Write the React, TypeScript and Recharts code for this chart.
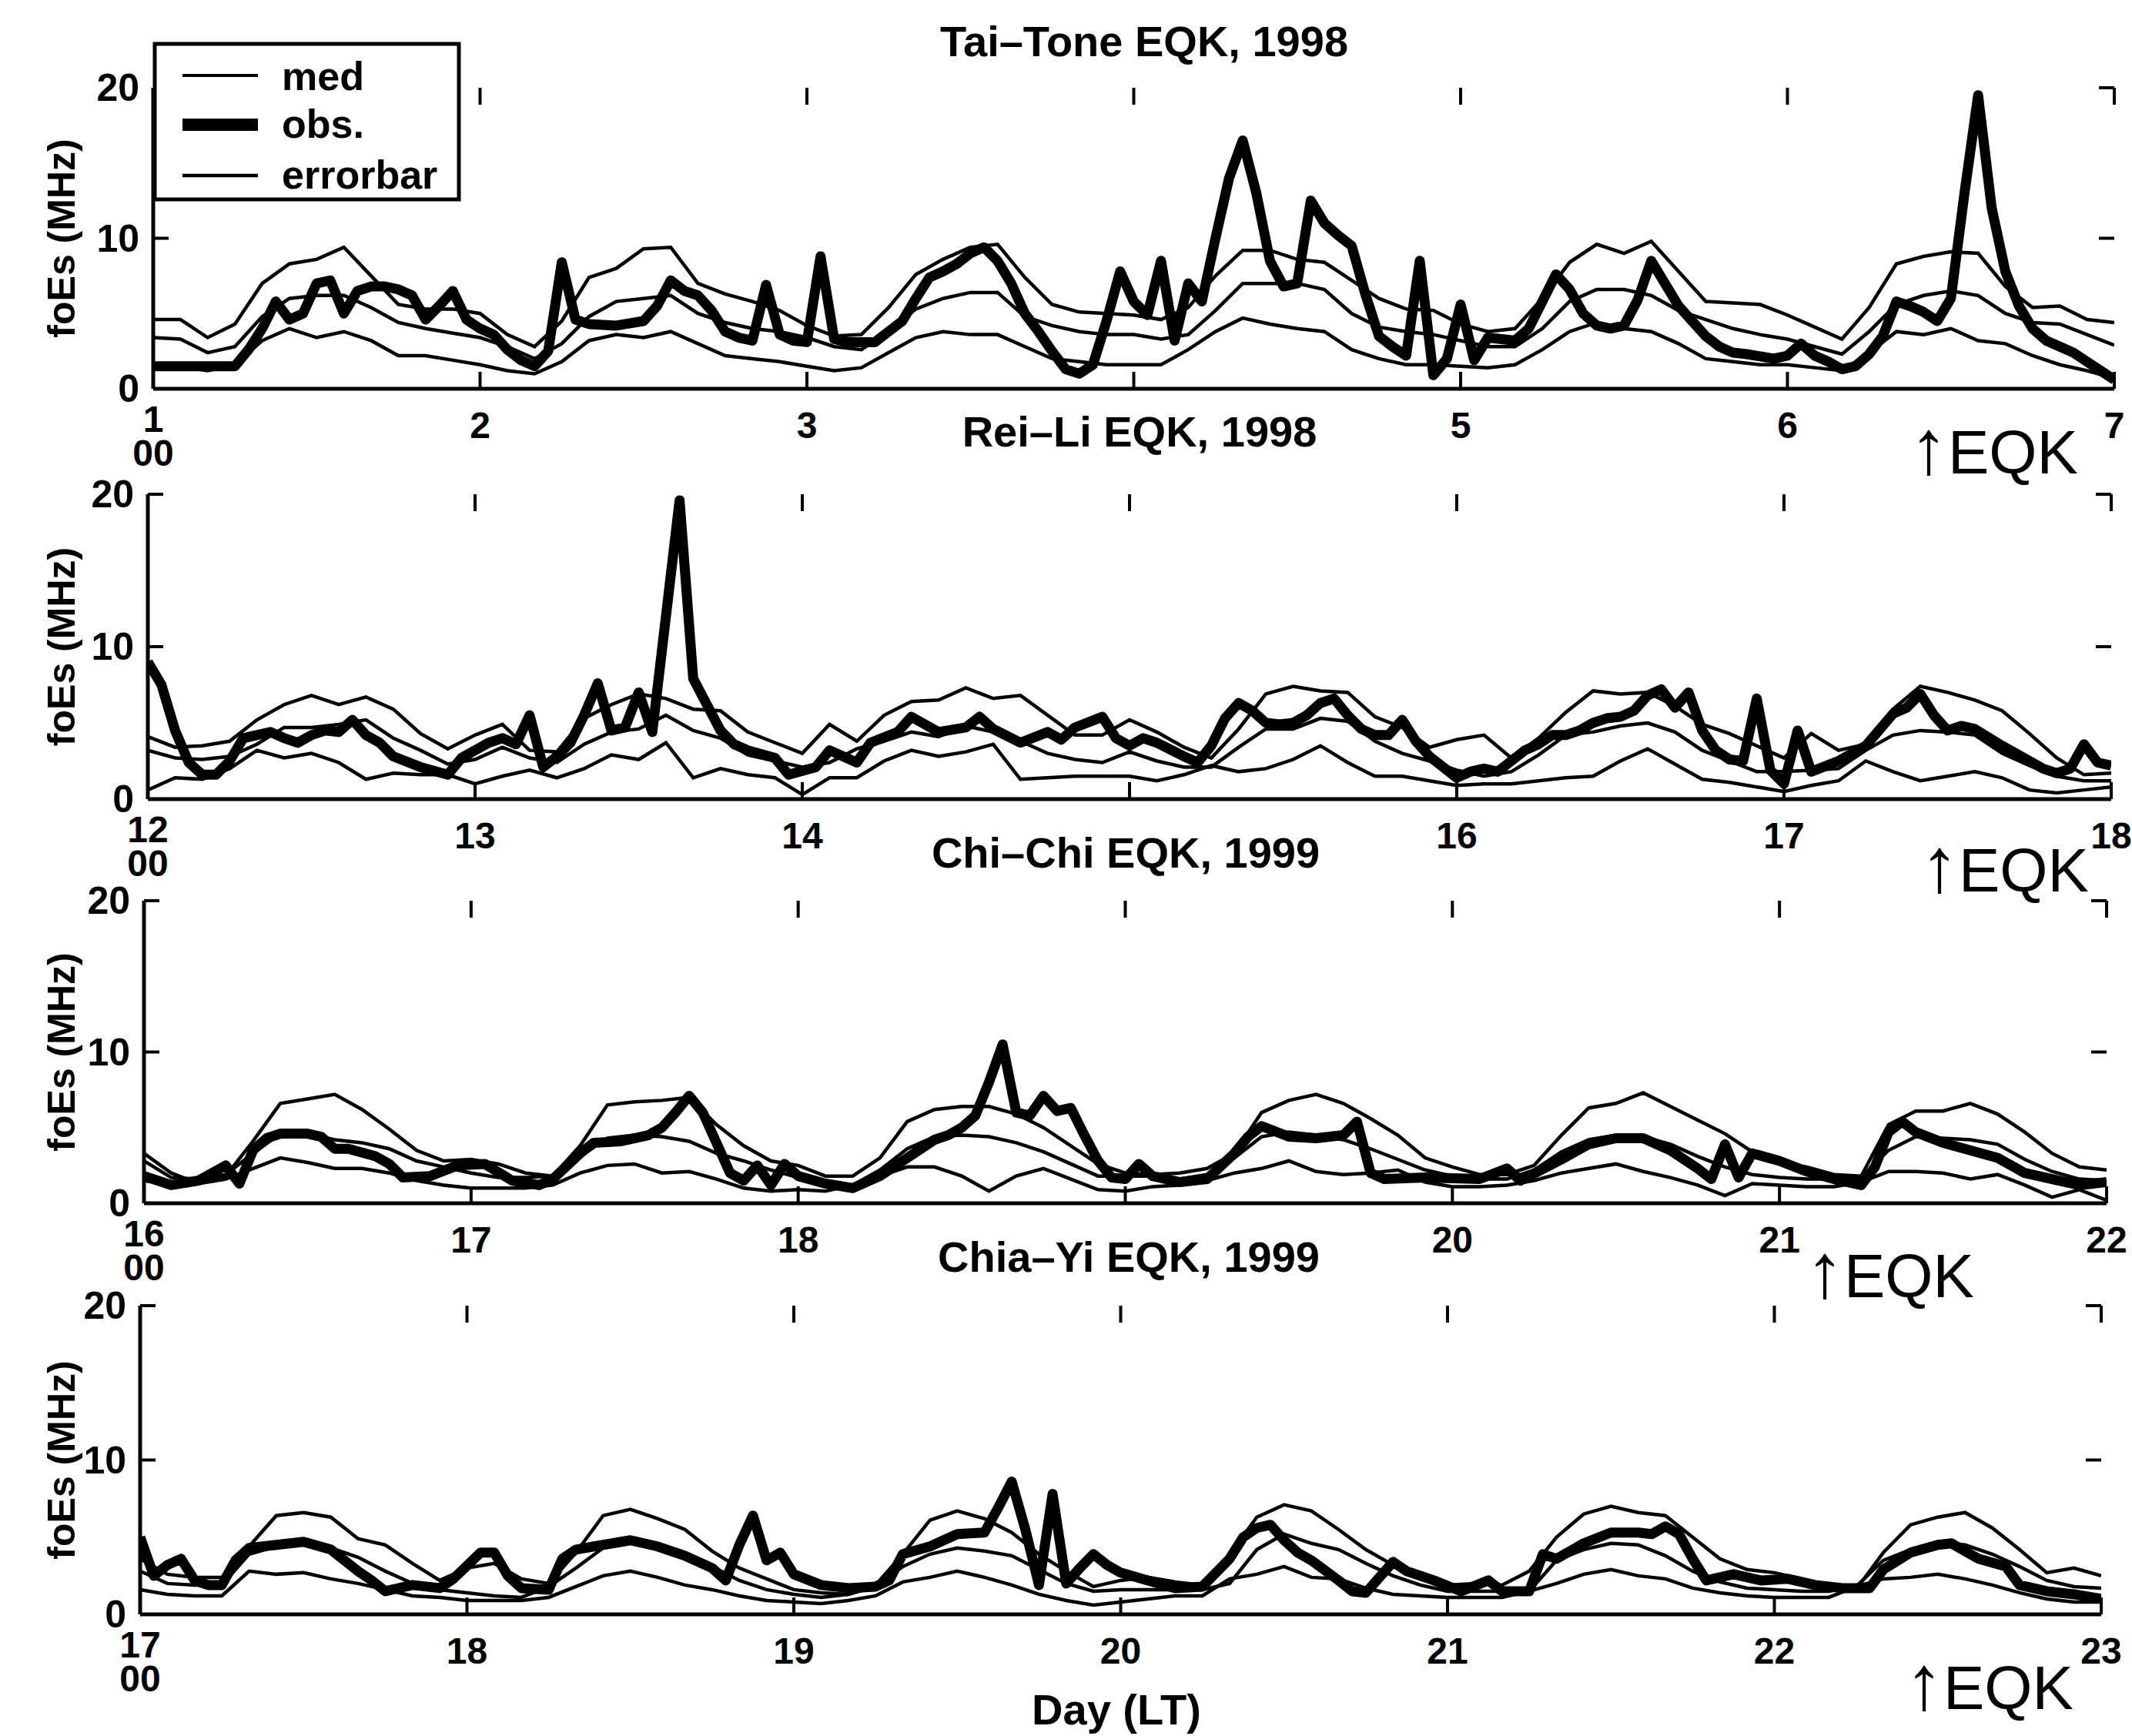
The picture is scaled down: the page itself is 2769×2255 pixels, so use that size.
import { LineChart, Line, XAxis, YAxis } from "recharts";

const W = 2769;
const H = 2255;
const FONT = "'Liberation Sans', Arial, Helvetica, sans-serif";

// ---- tick labels (days, local time) ----
const taiToneDays = [1, 2, 3, 4, 5, 6, 7];
const reiLiDays = [12, 13, 14, 15, 16, 17, 18];
const chiChiDays = [16, 17, 18, 19, 20, 21, 22];
const chiaYiDays = [17, 18, 19, 20, 21, 22, 23];
const yTicks = [0, 10, 20];

// ---- Tai-Tone EQK, 1998 : med / errorbar every 2 h, obs as [hour, MHz] ----
const taiToneUpper = [
  4.6, 4.6, 3.4, 4.3, 7.0, 8.3, 8.6, 9.4, 7.5, 5.6, 5.3, 5.3,
  5.0, 3.6, 2.8, 4.5, 7.4, 8.0, 9.3, 9.4, 7.0, 6.3, 5.8, 5.2,
  4.2, 3.5, 3.6, 5.4, 7.6, 8.6, 9.4, 9.6, 7.4, 5.6, 5.1, 5.0,
  4.9, 4.6, 5.4, 7.5, 9.2, 9.2, 8.6, 8.4, 7.2, 6.0, 5.3, 5.2,
  4.3, 3.8, 4.0, 6.0, 8.4, 9.6, 9.0, 9.8, 7.8, 5.8, 5.7, 5.6,
  4.9, 4.1, 3.3, 5.4, 8.3, 8.8, 9.1, 9.0, 6.8, 5.4, 5.5, 4.6,
  4.4,
];
const taiToneMed = [
  3.4, 3.3, 2.4, 2.8, 4.8, 6.0, 6.2, 6.2, 5.4, 4.4, 4.0, 3.7,
  3.4, 2.8, 2.0, 3.0, 4.8, 5.8, 6.0, 6.2, 5.0, 4.4, 4.0, 3.8,
  3.4, 2.8, 2.6, 3.8, 5.3, 6.0, 6.4, 6.4, 4.8, 4.2, 3.8, 3.6,
  3.6, 3.3, 3.6, 5.2, 7.0, 7.0, 7.0, 6.6, 5.0, 4.1, 3.8, 3.6,
  3.2, 2.8, 2.8, 4.0, 5.8, 6.6, 6.6, 6.2, 5.2, 4.6, 4.0, 3.6,
  3.3, 2.8, 2.3, 3.8, 5.6, 6.2, 6.5, 6.2, 5.0, 4.4, 4.3, 3.6,
  2.9,
];
const taiToneLower = [
  1.6, 1.5, 1.2, 1.6, 3.2, 4.0, 3.4, 3.8, 3.2, 2.2, 2.2, 1.9,
  1.6, 1.2, 1.0, 1.8, 3.2, 3.6, 3.4, 3.8, 3.0, 2.2, 2.0, 1.8,
  1.5, 1.2, 1.4, 2.4, 3.4, 3.8, 3.6, 3.6, 2.8, 2.0, 1.8, 1.6,
  1.6, 1.6, 2.6, 3.8, 4.7, 4.3, 4.0, 3.8, 2.6, 2.0, 1.6, 1.6,
  1.5, 1.4, 1.6, 2.6, 3.8, 4.4, 4.0, 3.8, 3.0, 2.0, 1.8, 1.6,
  1.6, 1.4, 1.2, 2.4, 3.8, 3.6, 4.0, 3.2, 3.0, 2.2, 1.6, 1.2,
  0.7,
];
const taiToneObs = [
  [0, 1.5], [6, 1.5], [7, 2.6], [8, 4.0], [9, 5.8], [10, 4.6], [11, 5.0], [12, 7.0],
  [13, 7.2], [14, 5.0], [15, 6.5], [16, 6.8], [17, 6.8], [18, 6.6], [19, 6.2], [20, 4.6],
  [21, 5.5], [22, 6.5], [23, 4.6], [24, 4.0], [25, 3.6], [26, 2.6], [27, 1.9], [28, 1.5],
  [29, 2.5], [30, 8.4], [31, 4.6], [32, 4.3], [34, 4.2], [36, 4.5], [37, 5.5], [38, 7.2],
  [39, 6.5], [40, 6.2], [41, 5.2], [42, 3.8], [43, 3.4], [44, 3.2], [45, 6.9], [46, 3.6],
  [47, 3.2], [48, 3.1], [49, 8.8], [50, 3.3], [51, 3.1], [53, 3.1], [54, 3.8], [55, 4.5],
  [56, 6.0], [57, 7.4], [58, 7.8], [59, 8.3], [60, 9.0], [61, 9.4], [62, 8.5], [63, 7.0],
  [64, 5.0], [65, 3.8], [66, 2.5], [67, 1.3], [68, 1.0], [69, 1.6], [70, 4.5], [71, 7.8],
  [72, 5.8], [73, 4.9], [74, 8.5], [75, 3.2], [76, 7.0], [77, 5.8], [78, 10], [79, 14],
  [80, 16.5], [81, 13], [82, 8.5], [83, 6.8], [84, 7.0], [85, 12.5], [86, 11], [87, 10.2],
  [88, 9.5], [89, 6.3], [90, 3.5], [91, 2.8], [92, 2.2], [93, 8.5], [94, 0.9], [95, 2.0],
  [96, 5.6], [97, 1.9], [98, 3.4], [100, 3.2], [101, 4.0], [102, 5.8], [103, 7.6], [104, 6.6],
  [105, 5.0], [106, 4.2], [107, 4.0], [108, 4.2], [109, 5.9], [110, 8.5], [111, 7.0], [112, 5.5],
  [113, 4.5], [114, 3.5], [115, 2.8], [116, 2.4], [117, 2.3], [119, 2.0], [120, 2.2], [121, 3.0],
  [122, 2.2], [123, 1.8], [124, 1.3], [125, 1.5], [126, 2.3], [127, 3.5], [128, 5.8], [129, 5.5],
  [130, 5.1], [131, 4.5], [132, 6.0], [133, 13], [134, 19.5], [135, 12], [136, 7.8], [137, 5.5],
  [138, 4.0], [139, 3.2], [140, 2.8], [141, 2.4], [142, 1.8], [143, 1.2], [144, 0.6],
];

// ---- Rei-Li EQK, 1998 ----
const reiLiUpper = [
  4.1, 3.4, 3.5, 3.8, 5.2, 6.2, 6.8, 6.2, 6.7, 5.9, 4.3, 3.3,
  4.2, 4.9, 3.2, 3.1, 5.3, 6.2, 6.9, 6.6, 5.9, 5.8, 4.4, 3.7,
  3.0, 4.9, 3.8, 5.5, 6.4, 6.5, 7.3, 6.6, 6.8, 5.5, 4.2, 4.2,
  5.2, 4.4, 3.4, 2.7, 4.6, 6.9, 7.4, 7.1, 7.0, 5.4, 4.7, 3.4,
  3.9, 4.2, 2.7, 4.0, 5.7, 7.1, 6.9, 7.0, 6.1, 4.9, 4.3, 3.5,
  2.7, 4.3, 3.2, 3.6, 5.9, 7.4, 7.0, 6.5, 5.8, 4.3, 2.7, 1.6,
  1.7,
];
const reiLiMed = [
  3.2, 2.7, 2.6, 2.8, 3.6, 4.7, 4.7, 4.9, 5.2, 4.0, 3.2, 2.3,
  2.6, 3.4, 2.7, 2.4, 3.6, 4.4, 4.6, 5.5, 4.5, 4.0, 2.9, 2.5,
  2.1, 2.4, 3.3, 3.8, 4.4, 4.1, 4.8, 4.4, 3.8, 3.0, 2.6, 2.4,
  3.1, 2.5, 2.1, 2.1, 3.4, 4.6, 4.6, 5.3, 5.1, 3.8, 3.0, 2.5,
  1.9, 1.5, 1.8, 2.9, 4.2, 4.4, 4.8, 5.0, 4.4, 3.2, 2.5, 1.8,
  1.8, 1.9, 2.0, 3.2, 4.2, 4.5, 4.4, 4.2, 3.0, 2.2, 1.5, 1.2,
  1.2,
];
const reiLiLower = [
  0.6, 1.4, 1.3, 2.0, 3.2, 2.7, 3.0, 2.4, 1.3, 1.7, 1.6, 1.6,
  1.0, 1.5, 1.9, 1.4, 2.0, 2.9, 2.6, 3.7, 1.4, 2.0, 1.6, 1.4,
  0.3, 1.4, 1.4, 2.5, 3.2, 2.8, 3.1, 3.6, 1.3, 1.4, 1.5, 1.5,
  1.5, 1.2, 1.6, 2.2, 1.8, 2.0, 2.6, 3.5, 2.4, 1.5, 1.5, 1.2,
  0.9, 1.0, 1.0, 1.2, 1.4, 1.5, 2.5, 3.3, 2.3, 1.3, 1.1, 0.8,
  0.5, 0.9, 1.2, 2.5, 1.8, 1.2, 1.5, 1.8, 1.4, 0.6, 0.4, 0.6,
  0.8,
];
const reiLiObs = [
  [0, 9.0], [1, 7.5], [2, 4.5], [3, 2.4], [4, 1.6], [5, 1.6], [6, 2.5], [7, 4.0],
  [8, 4.2], [9, 4.4], [10, 4.0], [11, 3.7], [12, 4.2], [13, 4.5], [14, 4.4], [15, 5.2],
  [16, 4.2], [17, 3.7], [18, 2.8], [20, 2.1], [22, 1.6], [23, 2.7], [24, 3.2], [25, 3.7],
  [26, 4.0], [27, 3.6], [28, 5.5], [29, 2.1], [30, 2.8], [31, 3.7], [32, 5.5], [33, 7.6],
  [34, 4.5], [35, 4.7], [36, 7.0], [37, 4.4], [38, 12], [39, 19.6], [40, 7.9], [41, 6.2],
  [42, 4.5], [43, 3.6], [44, 3.2], [46, 2.7], [47, 1.6], [49, 2.1], [50, 3.2], [52, 2.4],
  [53, 3.7], [55, 4.4], [56, 5.4], [58, 4.4], [60, 4.7], [61, 5.4], [62, 4.6], [64, 3.7],
  [66, 4.4], [67, 3.9], [68, 4.7], [70, 5.4], [71, 4.0], [72, 3.5], [73, 4.0], [74, 3.7],
  [76, 2.8], [77, 2.4], [78, 3.5], [79, 5.3], [80, 6.3], [81, 5.8], [82, 5.0], [83, 4.9],
  [84, 5.0], [85, 5.5], [86, 6.3], [87, 6.6], [88, 5.5], [89, 4.6], [90, 4.2], [91, 4.2],
  [92, 5.2], [93, 3.8], [94, 2.8], [95, 2.1], [96, 1.4], [97, 1.8], [98, 2.0], [99, 1.8],
  [100, 2.5], [101, 3.2], [102, 3.6], [103, 4.2], [104, 4.2], [105, 4.5], [106, 5.0], [107, 5.3],
  [108, 5.4], [109, 5.8], [110, 6.8], [111, 7.2], [112, 6.0], [113, 7.0], [114, 4.5], [115, 3.2],
  [116, 2.6], [117, 2.5], [118, 6.6], [119, 1.9], [120, 1.0], [121, 4.5], [122, 1.8], [124, 2.5],
  [126, 3.5], [128, 5.6], [129, 6.0], [130, 6.9], [131, 5.5], [132, 4.5], [133, 4.8], [134, 4.6],
  [136, 3.5], [138, 2.5], [139, 2.0], [140, 1.7], [141, 2.0], [142, 3.6], [143, 2.4], [144, 2.2],
];

// ---- Chi-Chi EQK, 1999 ----
const chiChiUpper = [
  3.3, 2.0, 1.3, 1.8, 4.1, 6.6, 6.9, 7.2, 6.2, 4.9, 3.5, 2.8,
  2.9, 2.6, 2.0, 1.8, 3.8, 6.5, 6.7, 6.8, 7.0, 5.2, 3.8, 2.8,
  2.5, 1.8, 1.8, 3.0, 5.4, 6.2, 6.4, 6.4, 5.9, 5.0, 3.8, 2.6,
  2.0, 1.9, 2.0, 2.3, 3.3, 6.0, 6.8, 7.2, 6.6, 5.6, 4.5, 3.0,
  2.4, 1.9, 1.9, 2.5, 4.5, 6.3, 6.6, 7.3, 6.4, 5.5, 4.6, 3.4,
  2.7, 2.4, 1.9, 1.8, 5.2, 6.1, 6.1, 6.6, 5.9, 4.7, 3.3, 2.4,
  2.2,
];
const chiChiMed = [
  2.8, 1.7, 1.6, 1.9, 3.3, 4.6, 4.6, 4.2, 4.0, 3.6, 2.8, 2.4,
  2.0, 1.7, 1.7, 1.8, 3.1, 4.3, 4.5, 4.4, 4.1, 3.3, 2.8, 2.2,
  1.7, 1.5, 1.2, 2.2, 3.6, 4.4, 4.5, 4.4, 4.0, 3.4, 2.6, 1.8,
  1.8, 1.8, 1.6, 1.9, 3.0, 4.4, 4.7, 4.5, 4.2, 3.6, 2.9, 2.2,
  1.8, 1.6, 1.6, 2.2, 3.4, 4.2, 4.5, 4.4, 3.9, 3.1, 2.4, 1.9,
  1.7, 1.6, 1.6, 1.7, 3.5, 4.4, 4.3, 4.2, 3.9, 2.9, 2.1, 1.6,
  1.5,
];
const chiChiLower = [
  1.5, 1.2, 1.3, 1.6, 2.3, 3.0, 2.7, 2.3, 2.3, 2.0, 1.5, 1.2,
  1.0, 1.0, 1.0, 1.2, 2.0, 2.5, 2.6, 2.0, 2.1, 1.6, 1.0, 0.8,
  0.9, 0.8, 1.2, 1.8, 2.4, 2.4, 1.8, 0.8, 1.8, 2.3, 1.6, 0.9,
  0.8, 1.1, 1.2, 1.5, 2.0, 2.3, 2.8, 2.1, 1.9, 2.0, 2.2, 1.4,
  1.1, 1.1, 1.2, 1.5, 2.0, 2.3, 2.6, 2.1, 1.7, 1.2, 0.5, 1.3,
  1.2, 1.1, 1.1, 1.4, 2.1, 2.1, 2.0, 1.6, 1.9, 1.2, 0.4, 0.9,
  0.2,
];
const chiChiObs = [
  [0, 1.8], [2, 1.2], [4, 1.5], [6, 2.5], [7, 1.3], [8, 3.5], [9, 4.3], [10, 4.6],
  [12, 4.6], [13, 4.4], [14, 3.6], [15, 3.6], [17, 3.1], [18, 2.6], [19, 1.7], [21, 1.8],
  [23, 2.5], [25, 2.6], [27, 1.5], [29, 1.2], [30, 1.6], [32, 3.3], [33, 4.0], [35, 4.1],
  [37, 4.5], [38, 5.0], [39, 6.0], [40, 7.1], [41, 6.0], [42, 4.0], [43, 2.0], [44, 1.5],
  [45, 2.5], [46, 1.2], [47, 2.6], [48, 1.8], [50, 1.3], [52, 1.0], [54, 1.8], [56, 3.0],
  [58, 4.2], [59, 4.5], [60, 5.0], [61, 5.8], [62, 8.0], [63, 10.5], [64, 6.0], [65, 5.8],
  [66, 7.1], [67, 6.1], [68, 6.3], [69, 4.5], [70, 2.8], [71, 1.7], [72, 1.6], [73, 2.6],
  [74, 1.8], [76, 1.4], [78, 1.6], [80, 3.3], [81, 4.4], [82, 5.1], [84, 4.4], [86, 4.3],
  [88, 4.5], [89, 5.4], [90, 2.0], [91, 1.6], [94, 1.7], [98, 1.6], [100, 2.3], [101, 1.5],
  [104, 2.9], [106, 3.9], [108, 4.3], [110, 4.3], [112, 3.5], [114, 2.3], [115, 1.6], [116, 3.9],
  [117, 1.7], [118, 3.3], [120, 2.8], [122, 2.1], [124, 1.6], [126, 1.2], [127, 2.4], [128, 4.7],
  [129, 5.4], [130, 4.7], [132, 4.0], [134, 3.5], [136, 3.0], [138, 2.0], [140, 1.6], [142, 1.2],
  [144, 1.4],
];

// ---- Chia-Yi EQK, 1999 ----
const chiaYiUpper = [
  3.6, 2.6, 2.4, 2.4, 4.4, 6.4, 6.6, 6.3, 4.9, 4.5, 3.3, 2.2,
  3.0, 3.3, 2.3, 2.0, 4.0, 6.4, 6.8, 6.2, 5.5, 4.1, 3.0, 2.3,
  1.6, 1.4, 1.3, 1.9, 3.9, 6.1, 6.7, 6.2, 5.3, 3.9, 2.8, 1.8,
  2.2, 2.4, 2.1, 1.9, 3.9, 6.3, 7.1, 6.7, 5.5, 4.2, 3.2, 2.4,
  1.9, 2.0, 1.9, 2.8, 5.0, 6.5, 7.0, 6.6, 6.4, 5.0, 3.6, 2.9,
  2.7, 2.3, 1.8, 1.6, 4.0, 5.8, 6.3, 6.6, 5.6, 4.2, 2.7, 3.0,
  2.5,
];
const chiaYiMed = [
  2.8, 2.0, 1.9, 1.9, 3.9, 4.4, 4.7, 4.3, 3.7, 2.8, 2.0, 1.6,
  1.4, 1.2, 1.1, 1.8, 3.0, 4.3, 4.9, 4.4, 3.8, 3.1, 2.2, 1.6,
  1.3, 1.1, 1.3, 1.8, 3.1, 3.9, 4.3, 4.1, 3.8, 2.9, 2.0, 1.5,
  1.6, 1.6, 1.6, 1.6, 2.0, 4.2, 5.2, 4.6, 4.2, 3.3, 2.5, 1.9,
  1.5, 1.5, 1.5, 1.5, 3.5, 4.2, 4.6, 4.5, 3.8, 2.8, 2.1, 1.7,
  1.6, 1.5, 1.5, 1.8, 3.5, 4.2, 4.7, 4.5, 3.9, 3.1, 2.2, 1.8,
  1.7,
];
const chiaYiLower = [
  1.6, 1.3, 1.2, 1.2, 2.8, 2.6, 2.7, 2.3, 2.0, 1.6, 1.2, 1.1,
  0.9, 0.9, 0.9, 1.1, 1.8, 2.5, 2.8, 2.4, 1.9, 1.6, 1.2, 0.9,
  0.8, 0.7, 0.9, 1.2, 2.1, 2.4, 2.8, 2.4, 1.9, 1.3, 0.9, 0.6,
  0.8, 1.0, 1.2, 1.2, 2.3, 2.6, 3.1, 2.4, 2.3, 1.7, 1.3, 1.2,
  1.1, 1.1, 1.1, 1.5, 2.0, 2.6, 2.9, 2.5, 2.3, 1.7, 1.4, 1.2,
  1.1, 1.1, 1.1, 1.8, 2.3, 2.4, 2.6, 2.3, 1.9, 1.4, 1.0, 0.8,
  0.8,
];
const chiaYiObs = [
  [0, 5.0], [1, 2.5], [2, 3.2], [3, 3.6], [4, 2.2], [5, 1.9], [6, 1.9], [7, 3.5],
  [8, 4.3], [10, 4.5], [12, 4.7], [14, 4.2], [16, 2.8], [17, 2.2], [18, 1.5], [20, 1.9],
  [22, 1.7], [23, 2.3], [25, 4.0], [26, 4.0], [27, 2.5], [28, 1.7], [30, 1.6], [31, 3.6],
  [32, 4.2], [34, 4.5], [36, 4.8], [38, 4.4], [40, 3.8], [42, 3.0], [43, 2.2], [44, 4.5],
  [45, 6.4], [46, 3.5], [47, 4.0], [48, 2.6], [50, 1.9], [52, 1.7], [54, 1.8], [55, 2.2],
  [56, 3.9], [58, 4.4], [60, 5.2], [62, 5.3], [63, 6.9], [64, 8.6], [65, 5.5], [66, 1.9],
  [67, 7.8], [68, 2.0], [69, 3.0], [70, 3.9], [71, 3.2], [72, 2.7], [74, 2.2], [76, 1.7],
  [78, 1.8], [80, 3.6], [81, 5.0], [82, 5.6], [83, 5.8], [84, 4.8], [85, 4.0], [86, 3.5],
  [88, 2.2], [89, 1.5], [90, 1.4], [92, 3.4], [93, 2.8], [95, 2.2], [97, 1.5], [99, 2.2],
  [100, 1.5], [102, 1.5], [103, 3.9], [104, 3.6], [106, 4.6], [108, 5.3], [110, 5.3], [111, 5.2],
  [112, 5.7], [113, 5.2], [114, 3.6], [115, 2.2], [117, 2.6], [119, 2.2], [121, 2.3], [123, 1.9],
  [125, 1.7], [127, 1.7], [128, 2.9], [130, 4.0], [132, 4.5], [133, 4.6], [135, 3.6], [137, 3.1],
  [138, 1.9], [140, 1.5], [142, 1.3], [144, 1.0],
];

type Pt = { x: number; v: number };
// med/errorbar samples are 2 hours apart
const band = (start: number, vals: number[]): Pt[] =>
  vals.map((v, i) => ({ x: start + i / 12, v }));
const hourly = (start: number, pts: number[][]): Pt[] =>
  pts.map(([h, v]) => ({ x: start + h / 24, v }));

type PanelCfg = {
  title: string;
  days: number[];
  upper: number[];
  med: number[];
  lower: number[];
  obs: number[][];
  hiddenTick: number;
  // layout (page pixels)
  left: number;
  right: number;
  top: number;
  bottom: number;
  titleX: number;
  titleY: number;
  eqkX: number;
  eqkY: number;
};

const panels: PanelCfg[] = [
  {
    title: "Tai\u2013Tone EQK, 1998", days: taiToneDays,
    upper: taiToneUpper, med: taiToneMed, lower: taiToneLower, obs: taiToneObs, hiddenTick: 3,
    left: 199, right: 2746, top: 114, bottom: 505, titleX: 1486, titleY: 73, eqkX: 2480, eqkY: 615,
  },
  {
    title: "Rei\u2013Li EQK, 1998", days: reiLiDays,
    upper: reiLiUpper, med: reiLiMed, lower: reiLiLower, obs: reiLiObs, hiddenTick: 3,
    left: 192, right: 2742, top: 642, bottom: 1038, titleX: 1480, titleY: 580, eqkX: 2494, eqkY: 1158,
  },
  {
    title: "Chi\u2013Chi EQK, 1999", days: chiChiDays,
    upper: chiChiUpper, med: chiChiMed, lower: chiChiLower, obs: chiChiObs, hiddenTick: 3,
    left: 187, right: 2736, top: 1170, bottom: 1563, titleX: 1462, titleY: 1127, eqkX: 2345, eqkY: 1685,
  },
  {
    title: "Chia\u2013Yi EQK, 1999", days: chiaYiDays,
    upper: chiaYiUpper, med: chiaYiMed, lower: chiaYiLower, obs: chiaYiObs, hiddenTick: -1,
    left: 182, right: 2729, top: 1696, bottom: 2097, titleX: 1466, titleY: 1652, eqkX: 2474, eqkY: 2220,
  },
];

const PAD_TOP = 40;
const AXIS_H = 150;
const YAXIS_W = 60;
const TICK_LEN = 22;
const axisLine = { stroke: "#000", strokeWidth: 5 };
const labelFont = { fontFamily: FONT, fontWeight: 700, fontSize: 48, fill: "#000" };

function Panel({ cfg }: { cfg: PanelCfg }) {
  const plotH = cfg.bottom - cfg.top;
  const plotW = cfg.right - cfg.left;
  const start = cfg.days[0];
  const domain: [number, number] = [start, cfg.days[cfg.days.length - 1]];

  // bottom axis: inward ticks on bottom and top edge + day label (first one also carries "00")
  const renderBottomTick = (props: any) => {
    const { x, y, payload, index } = props;
    return (
      <g>
        <line x1={x} x2={x} y1={y} y2={y - TICK_LEN} stroke="#000" strokeWidth={4} />
        <line x1={x} x2={x} y1={y - plotH} y2={y - plotH + TICK_LEN} stroke="#000" strokeWidth={4} />
        {index !== cfg.hiddenTick && (
          <text x={x} y={y + (index === 0 ? 56 : 64)} textAnchor="middle" {...labelFont}>
            {payload.value}
          </text>
        )}
        {index === 0 && (
          <text x={x} y={y + 100} textAnchor="middle" {...labelFont}>
            00
          </text>
        )}
      </g>
    );
  };
  // left axis: inward ticks on left and right edge + value label
  const renderLeftTick = (props: any) => {
    const { x, y, payload } = props;
    return (
      <g>
        <line x1={x} x2={x + 20} y1={y} y2={y} stroke="#000" strokeWidth={4} />
        <line x1={x + plotW} x2={x + plotW - 20} y1={y} y2={y} stroke="#000" strokeWidth={4} />
        <text x={x - 18} y={y} textAnchor="end" dominantBaseline="central" {...labelFont} fontSize={50}>
          {payload.value}
        </text>
      </g>
    );
  };

  const thin = { stroke: "#000", strokeWidth: 4.5, dot: false, activeDot: false, isAnimationActive: false } as const;

  return (
    <div style={{ position: "absolute", left: 0, top: cfg.top - PAD_TOP }}>
      <LineChart
        width={W}
        height={PAD_TOP + plotH + AXIS_H}
        margin={{ top: PAD_TOP, right: W - cfg.right, bottom: 0, left: cfg.left - YAXIS_W }}
      >
        <XAxis
          xAxisId="bottom"
          dataKey="x"
          type="number"
          domain={domain}
          ticks={cfg.days}
          interval={0}
          allowDataOverflow
          height={AXIS_H}
          axisLine={axisLine}
          tickLine={false}
          tickSize={0}
          tickMargin={0}
          tick={renderBottomTick}
        />
        <XAxis
          xAxisId="top"
          orientation="top"
          dataKey="x"
          type="number"
          domain={domain}
          allowDataOverflow
          height={0}
          axisLine={axisLine}
          tickLine={false}
          tick={false}
        />
        <YAxis
          yAxisId="left"
          type="number"
          domain={[0, 20]}
          ticks={yTicks}
          interval={0}
          allowDataOverflow
          width={YAXIS_W}
          axisLine={axisLine}
          tickLine={false}
          tickSize={0}
          tickMargin={0}
          tick={renderLeftTick}
        />
        <YAxis
          yAxisId="right"
          orientation="right"
          type="number"
          domain={[0, 20]}
          allowDataOverflow
          width={0}
          axisLine={axisLine}
          tickLine={false}
          tick={false}
        />
        <Line xAxisId="bottom" yAxisId="left" data={band(start, cfg.lower)} dataKey="v" type="linear" {...thin} />
        <Line xAxisId="bottom" yAxisId="left" data={band(start, cfg.upper)} dataKey="v" type="linear" {...thin} />
        <Line xAxisId="bottom" yAxisId="left" data={band(start, cfg.med)} dataKey="v" type="linear" {...thin} />
        <Line
          xAxisId="bottom"
          yAxisId="left"
          data={hourly(start, cfg.obs)}
          dataKey="v"
          type="linear"
          stroke="#000"
          strokeWidth={13}
          strokeLinejoin="round"
          dot={false}
          activeDot={false}
          isAnimationActive={false}
        />
      </LineChart>
    </div>
  );
}

export default function App() {
  return (
    <div style={{ position: "absolute", left: 0, top: 0, width: W, height: H, background: "#fff", overflow: "hidden" }}>
      {panels.map((p) => (
        <Panel key={p.title} cfg={p} />
      ))}
      <svg width={W} height={H} style={{ position: "absolute", left: 0, top: 0 }}>
        {panels.map((p) => (
          <g key={p.title}>
            <text x={p.titleX} y={p.titleY} textAnchor="middle" fontFamily={FONT} fontWeight={700} fontSize={56}>
              {p.title}
            </text>
            <text x={p.eqkX} y={p.eqkY} fontFamily={FONT} fontSize={80}>
              <tspan fontSize={100}>{"\u2191"}</tspan>
              EQK
            </text>
            <text
              x={80}
              y={(p.top + p.bottom) / 2}
              transform={`rotate(-90 80 ${(p.top + p.bottom) / 2})`}
              textAnchor="middle"
              dominantBaseline="central"
              fontFamily={FONT}
              fontWeight={700}
              fontSize={50}
            >
              foEs (MHz)
            </text>
          </g>
        ))}
        <text x={1450} y={2240} textAnchor="middle" fontFamily={FONT} fontWeight={700} fontSize={56}>
          Day (LT)
        </text>
        {/* legend */}
        <rect x={201} y={57} width={395} height={202} fill="#fff" stroke="#000" strokeWidth={5} />
        <line x1={237} x2={335} y1={98} y2={98} stroke="#000" strokeWidth={4} />
        <line x1={237} x2={335} y1={162} y2={162} stroke="#000" strokeWidth={16} />
        <line x1={237} x2={335} y1={228} y2={228} stroke="#000" strokeWidth={4.5} />
        <text x={366} y={117} fontFamily={FONT} fontWeight={700} fontSize={52}>med</text>
        <text x={366} y={179} fontFamily={FONT} fontWeight={700} fontSize={52}>obs.</text>
        <text x={366} y={245} fontFamily={FONT} fontWeight={700} fontSize={52}>errorbar</text>
      </svg>
    </div>
  );
}
